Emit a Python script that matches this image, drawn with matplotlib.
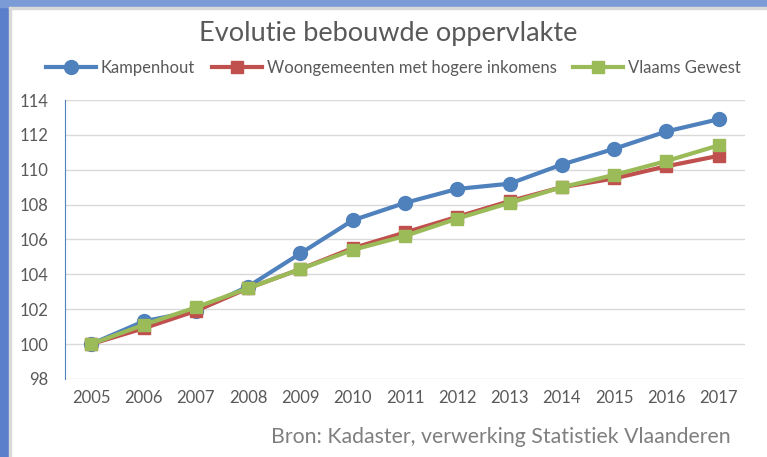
import numpy as np
import matplotlib
matplotlib.use('Agg')
import matplotlib.pyplot as plt
from matplotlib.patches import Rectangle

plt.rcParams['font.family'] = ['Lato', 'DejaVu Sans']

jaren = [2005, 2006, 2007, 2008, 2009, 2010, 2011, 2012, 2013, 2014, 2015, 2016, 2017]
kampenhout = [100, 101.3, 101.9, 103.3, 105.2, 107.1, 108.1, 108.9, 109.2, 110.3, 111.2, 112.2, 112.9]
woongemeenten = [100, 100.9, 101.9, 103.2, 104.3, 105.5, 106.4, 107.3, 108.2, 109.0, 109.5, 110.2, 110.8]
vlaams = [100, 101.1, 102.1, 103.2, 104.3, 105.4, 106.2, 107.2, 108.1, 109.0, 109.7, 110.5, 111.4]

grijs = '#595959'

fig = plt.figure(figsize=(7.67, 4.57), dpi=100)
ax = fig.add_axes([0.085, 0.171, 0.886, 0.61])

# blauwe rand van de screenshot
fig.patches.append(Rectangle((0, 0), 9/767, 1, transform=fig.transFigure, color='#5b7fca', zorder=0))
fig.patches.append(Rectangle((0, 1-7/457), 1, 7/457, transform=fig.transFigure, color='#7b9bd6', zorder=0))
fig.patches.append(Rectangle((9/767, 0), 2/767, 1-7/457, transform=fig.transFigure, color='#d9d9d9', zorder=0))
fig.patches.append(Rectangle((9/767, 1-9/457), 1, 2/457, transform=fig.transFigure, color='#d9d9d9', zorder=0))

ax.plot(jaren, kampenhout, color='#4f81bd', lw=3, marker='o', ms=10, label='Kampenhout', zorder=3)
ax.plot(jaren, woongemeenten, color='#c0504d', lw=3, marker='s', ms=9, label='Woongemeenten met hogere inkomens', zorder=4)
ax.plot(jaren, vlaams, color='#9bbb59', lw=3, marker='s', ms=9, label='Vlaams Gewest', zorder=5)

ax.set_xlim(2004.5, 2017.5)
ax.set_ylim(98, 114)
ax.set_yticks(np.arange(98, 115, 2))
ax.set_xticks(jaren)
ax.grid(axis='y', color='#d9d9d9', lw=1)
ax.set_axisbelow(True)
for s in ['top', 'right', 'bottom']:
    ax.spines[s].set_visible(False)
ax.spines['left'].set_color('#4f81bd')
ax.tick_params(length=0, labelsize=12, labelcolor=grijs, pad=8)
ax.tick_params(axis='y', pad=12)

fig.text(0.506, 0.927, 'Evolutie bebouwde oppervlakte', ha='center', va='center', fontsize=19.5, color=grijs)
fig.legend(loc='center', bbox_to_anchor=(0.513, 0.851), ncol=3, frameon=False, fontsize=12,
           labelcolor=grijs, handlelength=3, handletextpad=0.3, columnspacing=1.0)
fig.text(0.952, 0.044, 'Bron: Kadaster, verwerking Statistiek Vlaanderen', ha='right', va='center',
         fontsize=15.3, color='#7f7f7f')

plt.savefig('out.png', dpi=100)
